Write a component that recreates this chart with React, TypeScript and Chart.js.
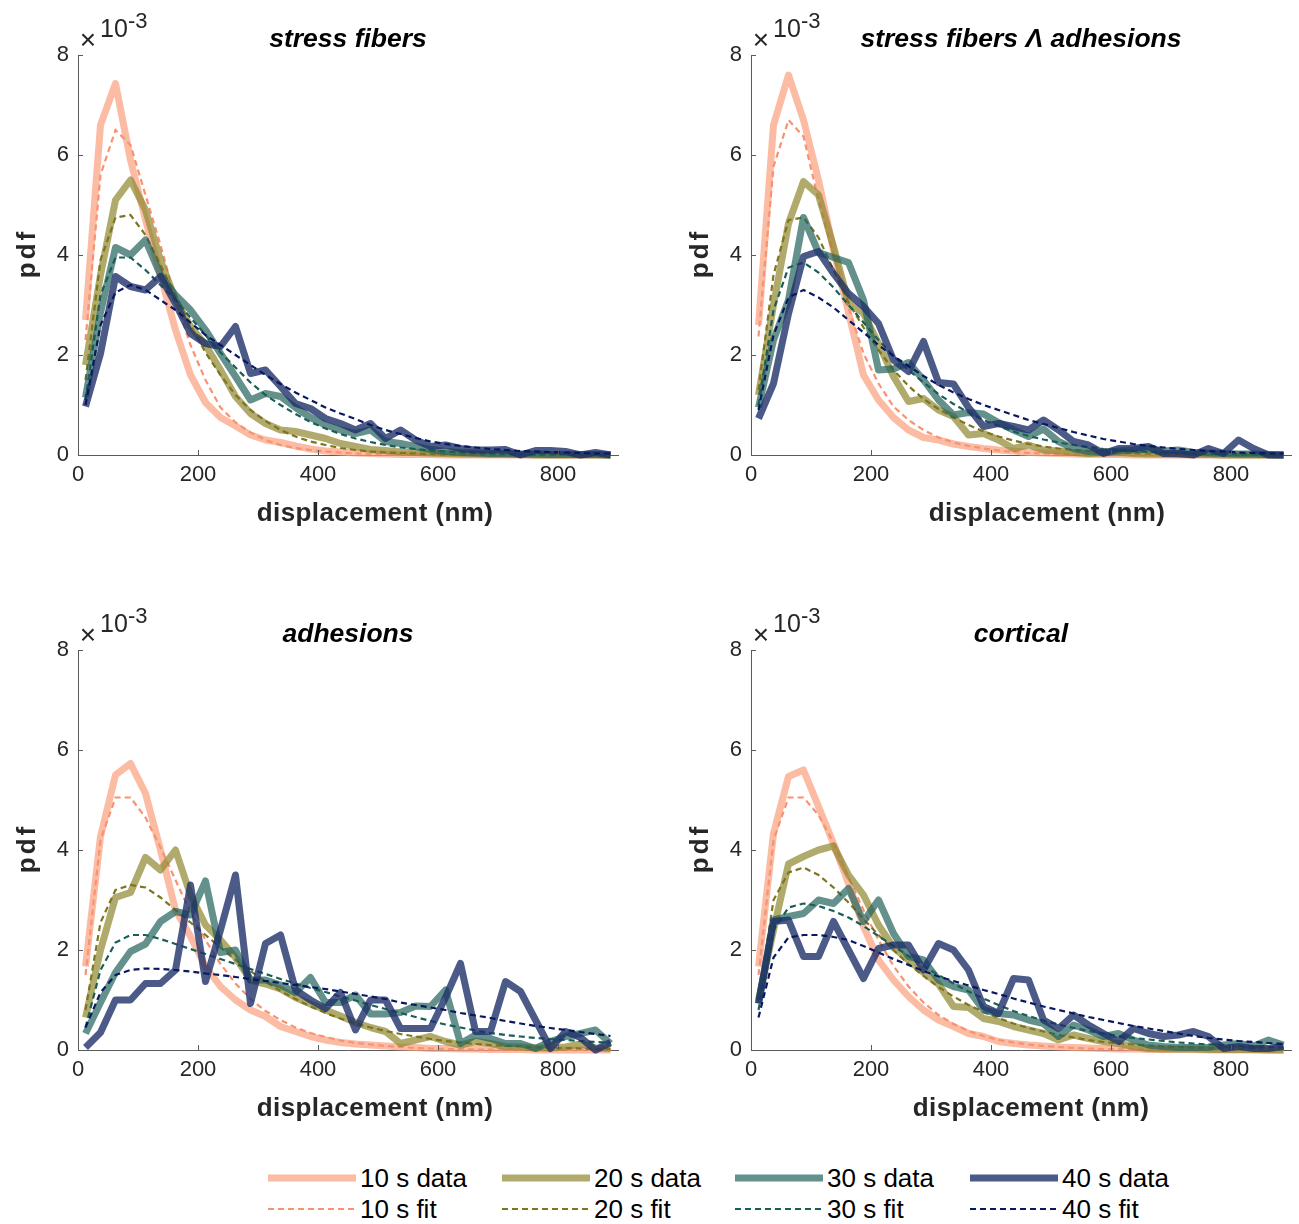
import React, { useEffect, useRef } from 'react';
import { Chart, registerables } from 'chart.js';

Chart.register(...registerables);

// ---------- data (pdf values in units of 1e-3) ----------
const binCenters = [
  12.5, 37.5, 62.5, 87.5, 112.5, 137.5, 162.5, 187.5, 212.5, 237.5, 262.5, 287.5,
  312.5, 337.5, 362.5, 387.5, 412.5, 437.5, 462.5, 487.5, 512.5, 537.5, 562.5, 587.5,
  612.5, 637.5, 662.5, 687.5, 712.5, 737.5, 762.5, 787.5, 812.5, 837.5, 862.5, 887.5,
];
const xTickValues = [0, 200, 400, 600, 800];
const yTickValues = [0, 2, 4, 6, 8];
const seriesNames = ['10 s', '20 s', '30 s', '40 s'];

// stress fibers
const sfData10 = [2.7, 6.6, 7.43, 5.9, 4.7, 3.6, 2.5, 1.6, 1.05, 0.75, 0.58, 0.4, 0.3, 0.25, 0.18, 0.12, 0.08, 0.06, 0.04, 0.03, 0.02, 0.01, 0.01, 0.01, 0, 0, 0, 0, 0, 0, 0, 0, 0, 0, 0, 0];
const sfFit10 = [2.3, 5.6, 6.5, 6.2, 5.2, 4.2, 3.1, 2.2, 1.5, 0.95, 0.65, 0.45, 0.3, 0.2, 0.14, 0.1, 0.07, 0.05, 0.03, 0.02, 0.02, 0.01, 0.01, 0.01, 0, 0, 0, 0, 0, 0, 0, 0, 0, 0, 0, 0];
const sfData20 = [1.8, 3.6, 5.1, 5.5, 4.9, 3.9, 3.1, 2.57, 2.2, 1.7, 1.17, 0.83, 0.63, 0.5, 0.47, 0.4, 0.33, 0.23, 0.17, 0.11, 0.09, 0.06, 0.05, 0.04, 0.03, 0.02, 0.02, 0.01, 0.01, 0.01, 0, 0, 0, 0, 0, 0];
const sfFit20 = [1.5, 3.9, 4.75, 4.8, 4.4, 3.8, 3.2, 2.6, 2.05, 1.6, 1.2, 0.9, 0.68, 0.5, 0.37, 0.27, 0.2, 0.14, 0.1, 0.07, 0.05, 0.04, 0.03, 0.02, 0.01, 0.01, 0.01, 0, 0, 0, 0, 0, 0, 0, 0, 0];
const sfData30 = [1.15, 2.85, 4.15, 4.0, 4.3, 3.6, 3.2, 2.9, 2.5, 2.03, 1.57, 1.1, 1.23, 1.17, 0.95, 0.75, 0.6, 0.5, 0.43, 0.5, 0.27, 0.23, 0.17, 0.11, 0.07, 0.05, 0.04, 0.03, 0.03, 0.02, 0.02, 0.01, 0.01, 0.01, 0.01, 0];
const sfFit30 = [1.1, 3.2, 3.95, 3.95, 3.7, 3.4, 3.1, 2.75, 2.4, 2.05, 1.75, 1.45, 1.2, 1.0, 0.82, 0.66, 0.53, 0.42, 0.33, 0.26, 0.2, 0.15, 0.12, 0.09, 0.07, 0.05, 0.04, 0.03, 0.02, 0.02, 0.01, 0.01, 0.01, 0, 0, 0];
const sfData40 = [0.97, 2.03, 3.57, 3.37, 3.3, 3.57, 3.03, 2.43, 2.23, 2.17, 2.57, 1.63, 1.7, 1.37, 1.03, 0.93, 0.73, 0.63, 0.5, 0.63, 0.33, 0.5, 0.3, 0.17, 0.2, 0.13, 0.1, 0.1, 0.11, 0, 0.09, 0.09, 0.07, 0, 0.05, 0];
const sfFit40 = [1.0, 2.6, 3.25, 3.4, 3.3, 3.1, 2.9, 2.65, 2.4, 2.2, 2.0, 1.8, 1.6, 1.42, 1.25, 1.1, 0.95, 0.83, 0.72, 0.6, 0.5, 0.42, 0.34, 0.27, 0.22, 0.18, 0.15, 0.12, 0.1, 0.08, 0.07, 0.06, 0.05, 0.04, 0.03, 0.03];

// stress fibers ∧ adhesions
const sfaData10 = [2.6, 6.6, 7.6, 6.7, 5.5, 4.1, 2.85, 1.6, 1.1, 0.75, 0.5, 0.35, 0.3, 0.22, 0.17, 0.13, 0.1, 0.08, 0.05, 0.04, 0.03, 0.02, 0.01, 0.01, 0.01, 0, 0, 0, 0, 0, 0, 0, 0, 0, 0, 0];
const sfaFit10 = [2.37, 5.77, 6.7, 6.37, 5.1, 4.0, 2.95, 2.03, 1.43, 0.97, 0.7, 0.5, 0.35, 0.25, 0.18, 0.13, 0.09, 0.06, 0.04, 0.03, 0.02, 0.02, 0.01, 0.01, 0, 0, 0, 0, 0, 0, 0, 0, 0, 0, 0, 0];
const sfaData20 = [1.2, 3.0, 4.63, 5.47, 5.2, 4.17, 3.05, 2.83, 2.23, 1.57, 1.07, 1.13, 0.9, 0.77, 0.4, 0.43, 0.3, 0.13, 0.2, 0.1, 0.08, 0.05, 0.03, 0.04, 0.05, 0.03, 0.02, 0.02, 0.01, 0.01, 0.01, 0, 0, 0, 0, 0];
const sfaFit20 = [1.3, 3.6, 4.7, 4.75, 4.35, 3.7, 3.05, 2.55, 2.1, 1.7, 1.38, 1.12, 0.92, 0.75, 0.6, 0.47, 0.37, 0.29, 0.22, 0.17, 0.13, 0.1, 0.08, 0.06, 0.05, 0.04, 0.03, 0.02, 0.02, 0.01, 0.01, 0.01, 0, 0, 0, 0];
const sfaData30 = [0.95, 2.3, 3.1, 4.75, 4.05, 3.95, 3.85, 3.1, 1.7, 1.72, 1.85, 1.5, 1.1, 0.8, 0.85, 0.82, 0.65, 0.5, 0.37, 0.52, 0.27, 0.13, 0.07, 0.05, 0.08, 0.1, 0.13, 0.08, 0.1, 0.05, 0.04, 0.03, 0.02, 0.02, 0.01, 0];
const sfaFit30 = [1.0, 2.9, 3.75, 3.85, 3.65, 3.35, 3.0, 2.65, 2.3, 1.98, 1.7, 1.45, 1.22, 1.02, 0.85, 0.7, 0.58, 0.47, 0.38, 0.31, 0.25, 0.2, 0.16, 0.12, 0.1, 0.08, 0.06, 0.05, 0.04, 0.03, 0.02, 0.02, 0.01, 0.01, 0.01, 0];
const sfaData40 = [0.73, 1.43, 2.83, 3.97, 4.07, 3.63, 3.23, 2.97, 2.63, 1.9, 1.67, 2.27, 1.45, 1.42, 0.95, 0.57, 0.63, 0.57, 0.5, 0.7, 0.5, 0.27, 0.2, 0.03, 0.13, 0.13, 0.17, 0.03, 0.03, 0, 0.13, 0.03, 0.3, 0.13, 0, 0];
const sfaFit40 = [0.9, 2.4, 3.15, 3.3, 3.15, 2.95, 2.7, 2.45, 2.2, 1.98, 1.78, 1.58, 1.4, 1.25, 1.12, 1.0, 0.9, 0.8, 0.7, 0.62, 0.54, 0.46, 0.39, 0.32, 0.27, 0.22, 0.18, 0.15, 0.12, 0.1, 0.08, 0.07, 0.05, 0.04, 0.03, 0.03];

// adhesions
const adData10 = [1.67, 4.27, 5.5, 5.73, 5.13, 4.0, 2.8, 2.27, 1.67, 1.27, 1.0, 0.8, 0.67, 0.47, 0.37, 0.27, 0.2, 0.15, 0.12, 0.1, 0.08, 0.06, 0.05, 0.03, 0.03, 0.02, 0.02, 0.01, 0.01, 0.01, 0, 0, 0, 0, 0, 0];
const adFit10 = [1.5, 4.2, 5.05, 5.05, 4.65, 4.05, 3.4, 2.75, 2.2, 1.72, 1.33, 1.02, 0.78, 0.6, 0.45, 0.34, 0.26, 0.19, 0.14, 0.11, 0.08, 0.06, 0.04, 0.03, 0.02, 0.02, 0.01, 0.01, 0.01, 0, 0, 0, 0, 0, 0, 0];
const adData20 = [0.65, 2.0, 3.05, 3.15, 3.85, 3.6, 4.0, 3.1, 2.5, 2.2, 1.85, 1.4, 1.32, 1.22, 1.05, 0.92, 0.8, 0.68, 0.55, 0.45, 0.37, 0.13, 0.2, 0.27, 0.17, 0.1, 0.17, 0.13, 0.07, 0.06, 0.04, 0.04, 0.06, 0.12, 0.04, 0.03];
const adFit20 = [0.8, 2.55, 3.2, 3.3, 3.25, 3.05, 2.8, 2.55, 2.3, 2.05, 1.8, 1.58, 1.37, 1.18, 1.02, 0.87, 0.74, 0.63, 0.53, 0.45, 0.38, 0.32, 0.27, 0.22, 0.18, 0.15, 0.12, 0.1, 0.08, 0.07, 0.05, 0.04, 0.04, 0.03, 0.02, 0.02];
const adData30 = [0.33, 0.95, 1.55, 1.97, 2.12, 2.57, 2.77, 2.7, 3.38, 1.95, 2.0, 1.4, 1.4, 1.3, 1.15, 1.45, 0.95, 0.95, 1.1, 0.72, 0.72, 0.75, 0.88, 0.87, 1.2, 0.13, 0.3, 0.23, 0.13, 0.13, 0.03, 0.17, 0.27, 0.33, 0.4, 0.13];
const adFit30 = [0.45, 1.6, 2.15, 2.3, 2.3, 2.22, 2.12, 2.02, 1.92, 1.82, 1.72, 1.62, 1.52, 1.42, 1.33, 1.24, 1.16, 1.07, 0.99, 0.9, 0.82, 0.74, 0.66, 0.58, 0.51, 0.45, 0.39, 0.34, 0.3, 0.27, 0.24, 0.22, 0.2, 0.18, 0.16, 0.15];
const adData40 = [0.05, 0.35, 1.0, 1.0, 1.33, 1.33, 1.6, 3.3, 1.37, 2.4, 3.5, 0.93, 2.13, 2.3, 1.2, 1.0, 0.83, 1.15, 0.4, 1.0, 1.0, 0.43, 0.43, 0.43, 1.05, 1.73, 0.37, 0.37, 1.37, 1.17, 0.6, 0.03, 0.37, 0.25, 0.0, 0.15];
const adFit40 = [0.45, 1.15, 1.5, 1.6, 1.63, 1.62, 1.6, 1.57, 1.53, 1.5, 1.46, 1.42, 1.38, 1.34, 1.3, 1.26, 1.22, 1.17, 1.12, 1.07, 1.02, 0.95, 0.9, 0.85, 0.8, 0.74, 0.69, 0.64, 0.58, 0.53, 0.48, 0.44, 0.4, 0.36, 0.32, 0.28];

// cortical
const coData10 = [1.67, 4.33, 5.47, 5.6, 4.87, 4.13, 3.33, 2.47, 1.8, 1.4, 1.07, 0.8, 0.6, 0.47, 0.33, 0.27, 0.17, 0.13, 0.1, 0.08, 0.06, 0.05, 0.04, 0.03, 0.02, 0.02, 0.01, 0.01, 0.01, 0.01, 0, 0, 0, 0, 0, 0];
const coFit10 = [1.5, 4.2, 5.05, 5.05, 4.7, 4.15, 3.45, 2.8, 2.2, 1.68, 1.27, 0.95, 0.7, 0.52, 0.38, 0.28, 0.2, 0.15, 0.11, 0.08, 0.06, 0.04, 0.03, 0.02, 0.02, 0.01, 0.01, 0.01, 0, 0, 0, 0, 0, 0, 0, 0];
const coData20 = [1.0, 2.4, 3.72, 3.87, 4.0, 4.08, 3.5, 3.1, 2.5, 2.05, 1.8, 1.55, 1.32, 0.87, 0.85, 0.63, 0.57, 0.47, 0.4, 0.33, 0.2, 0.3, 0.23, 0.17, 0.13, 0.07, 0.03, 0.02, 0.02, 0.02, 0.01, 0.01, 0.01, 0.01, 0, 0];
const coFit20 = [1.0, 3.0, 3.55, 3.65, 3.5, 3.25, 2.95, 2.62, 2.3, 2.0, 1.72, 1.48, 1.26, 1.07, 0.9, 0.76, 0.64, 0.53, 0.44, 0.37, 0.3, 0.25, 0.2, 0.16, 0.13, 0.11, 0.09, 0.07, 0.06, 0.05, 0.04, 0.03, 0.02, 0.02, 0.01, 0.01];
const coData30 = [0.93, 2.6, 2.67, 2.73, 3.0, 2.93, 3.23, 2.57, 3.0, 2.33, 1.87, 1.8, 1.4, 1.27, 1.2, 0.8, 0.73, 0.7, 0.6, 0.53, 0.27, 0.5, 0.4, 0.27, 0.33, 0.2, 0.1, 0.07, 0.05, 0.05, 0.05, 0.1, 0.13, 0.08, 0.2, 0.1];
const coFit30 = [0.8, 2.4, 2.85, 2.93, 2.88, 2.78, 2.65, 2.48, 2.28, 2.08, 1.88, 1.68, 1.5, 1.33, 1.17, 1.03, 0.9, 0.78, 0.68, 0.59, 0.51, 0.44, 0.38, 0.33, 0.28, 0.24, 0.21, 0.18, 0.15, 0.13, 0.11, 0.1, 0.08, 0.07, 0.06, 0.05];
const coData40 = [0.93, 2.57, 2.6, 1.87, 1.87, 2.57, 2.0, 1.43, 2.03, 2.1, 2.1, 1.6, 2.13, 2.0, 1.6, 0.87, 0.73, 1.43, 1.4, 0.6, 0.43, 0.7, 0.5, 0.33, 0.17, 0.43, 0.33, 0.27, 0.3, 0.37, 0.27, 0.03, 0.07, 0.03, 0.03, 0.07];
const coFit40 = [0.65, 1.85, 2.25, 2.3, 2.3, 2.26, 2.2, 2.08, 1.95, 1.82, 1.7, 1.58, 1.47, 1.38, 1.29, 1.2, 1.12, 1.03, 0.95, 0.87, 0.8, 0.73, 0.66, 0.6, 0.54, 0.48, 0.43, 0.38, 0.33, 0.28, 0.24, 0.21, 0.18, 0.16, 0.14, 0.12];

// ---------- styles ----------
const FONT = '"Liberation Sans", Arial, Helvetica, sans-serif';
const AXIS_COLOR = '#5a5a5a';
const TEXT_COLOR = '#262626';
const dataColors = ['rgba(251,158,124,0.7)', 'rgba(142,134,45,0.7)', 'rgba(34,98,91,0.7)', 'rgba(30,49,105,0.8)'];
const fitColors = ['rgb(248,146,114)', 'rgb(125,118,30)', 'rgb(25,95,85)', 'rgb(10,25,95)'];
const DATA_WIDTH = 7;
const FIT_WIDTH = 2.2;
const FIT_DASH = [6, 4];

type PanelSpec = { title: string; data: number[][]; fits: number[][]; left: number; top: number; width: number; xLabelShift: number };

const CANVAS_H = 545;
const AREA_LEFT = 78;
const AREA_RIGHT = 618;
const AREA_BOTTOM = 455;

const panels: PanelSpec[] = [
  { title: 'stress fibers', data: [sfData10, sfData20, sfData30, sfData40], fits: [sfFit10, sfFit20, sfFit30, sfFit40], left: 0, top: 0, width: 660, xLabelShift: 27 },
  { title: 'stress fibers Λ adhesions', data: [sfaData10, sfaData20, sfaData30, sfaData40], fits: [sfaFit10, sfaFit20, sfaFit30, sfaFit40], left: 673, top: 0, width: 626, xLabelShift: 26 },
  { title: 'adhesions', data: [adData10, adData20, adData30, adData40], fits: [adFit10, adFit20, adFit30, adFit40], left: 0, top: 595, width: 660, xLabelShift: 27 },
  { title: 'cortical', data: [coData10, coData20, coData30, coData40], fits: [coFit10, coFit20, coFit30, coFit40], left: 673, top: 595, width: 626, xLabelShift: 10 },
];

function makeDecor(spec: PanelSpec) {
  return {
    id: 'axisDecor',
    afterDraw(chart: any) {
      const { ctx, chartArea } = chart;
      const { left, top, bottom, right } = chartArea;
      const xs = chart.scales.x;
      const ys = chart.scales.y;
      ctx.save();
      // inward tick marks
      ctx.strokeStyle = AXIS_COLOR;
      ctx.lineWidth = 1;
      ctx.beginPath();
      for (const v of xTickValues) {
        const px = Math.round(xs.getPixelForValue(v)) + 0.5;
        ctx.moveTo(px, bottom);
        ctx.lineTo(px, bottom - 5);
      }
      for (const v of yTickValues) {
        const py = Math.round(ys.getPixelForValue(v)) + 0.5;
        ctx.moveTo(left, py);
        ctx.lineTo(left + 5, py);
      }
      ctx.stroke();
      // exponent label
      ctx.fillStyle = TEXT_COLOR;
      ctx.font = `28px ${FONT}`;
      ctx.textAlign = 'center';
      ctx.textBaseline = 'middle';
      ctx.fillText('×', left + 10, top - 14);
      ctx.textAlign = 'left';
      ctx.textBaseline = 'alphabetic';
      ctx.font = `25px ${FONT}`;
      ctx.fillText('10', left + 22, top - 18);
      ctx.font = `22px ${FONT}`;
      ctx.fillText('-3', left + 50, top - 27);
      // axis titles
      ctx.font = `bold 26px ${FONT}`;
      ctx.textAlign = 'center';
      ctx.textBaseline = 'middle';
      try { (ctx as any).letterSpacing = '0.4px'; } catch (e) { /* ignore */ }
      ctx.fillText('displacement (nm)', (left + right) / 2 + spec.xLabelShift, bottom + 59);
      try { (ctx as any).letterSpacing = '3px'; } catch (e) { /* ignore */ }
      ctx.translate(28, (top + bottom) / 2);
      ctx.rotate(-Math.PI / 2);
      ctx.fillText('pdf', 1.5, 0);
      ctx.restore();
    },
  };
}

function Panel({ spec }: { spec: PanelSpec }) {
  const ref = useRef<HTMLCanvasElement | null>(null);
  useEffect(() => {
    if (!ref.current) return;
    const datasets: any[] = [];
    let drawIndex = 0;
    for (let i = 0; i < 4; i++) {
      datasets.push({
        label: `${seriesNames[i]} data`,
        data: binCenters.map((x, k) => ({ x, y: spec.data[i][k] })),
        borderColor: dataColors[i],
        borderWidth: DATA_WIDTH,
        borderJoinStyle: 'round',
        pointRadius: 0,
        tension: 0,
        fill: false,
        clip: false,
        order: 20 - drawIndex++,
      });
      datasets.push({
        label: `${seriesNames[i]} fit`,
        data: binCenters.map((x, k) => ({ x, y: spec.fits[i][k] })),
        borderColor: fitColors[i],
        borderWidth: FIT_WIDTH,
        borderDash: FIT_DASH,
        pointRadius: 0,
        tension: 0,
        fill: false,
        clip: false,
        order: 20 - drawIndex++,
      });
    }
    const chart = new Chart(ref.current, {
      type: 'line',
      data: { datasets },
      options: {
        animation: false,
        responsive: false,
        maintainAspectRatio: false,
        devicePixelRatio: 1,
        events: [],
        layout: { padding: { left: 0, right: spec.width - AREA_RIGHT, top: 0, bottom: 0 } },
        plugins: {
          legend: { display: false },
          tooltip: { enabled: false },
          title: {
            display: true,
            text: spec.title,
            fullSize: false,
            color: '#000',
            font: { family: FONT, size: 26.5, weight: 'bold', style: 'italic', lineHeight: 1.1 },
            padding: { top: 25.4, bottom: 0.45 },
          },
        },
        scales: {
          x: {
            type: 'linear',
            min: 0,
            max: 900,
            afterBuildTicks: (s: any) => { s.ticks = xTickValues.map((v) => ({ value: v })); },
            afterFit: (s: any) => { s.height = CANVAS_H - AREA_BOTTOM; },
            grid: { display: false, drawTicks: false },
            border: { display: true, color: AXIS_COLOR, width: 1 },
            ticks: { color: TEXT_COLOR, font: { family: FONT, size: 22 }, padding: 7, maxRotation: 0, autoSkip: false },
          },
          y: {
            type: 'linear',
            min: 0,
            max: 8,
            afterBuildTicks: (s: any) => { s.ticks = yTickValues.map((v) => ({ value: v })); },
            afterFit: (s: any) => { s.width = AREA_LEFT; },
            grid: { display: false, drawTicks: false },
            border: { display: true, color: AXIS_COLOR, width: 1 },
            ticks: { color: TEXT_COLOR, font: { family: FONT, size: 22 }, padding: 9 },
          },
        },
      } as any,
      plugins: [makeDecor(spec)],
    });
    return () => chart.destroy();
  }, [spec]);
  return (
    <canvas
      ref={ref}
      width={spec.width}
      height={CANVAS_H}
      style={{ position: 'absolute', left: spec.left, top: spec.top, width: spec.width, height: CANVAS_H }}
    />
  );
}

const legendColumnsX = [268, 502, 735, 970];
const LEGEND_ROW_TOPS = [1164, 1195];

function Legend() {
  const rowStyle = (top: number, left: number): React.CSSProperties => ({
    position: 'absolute', left, top, height: 28, display: 'flex', alignItems: 'center',
    font: `26px ${FONT}`, color: '#000', whiteSpace: 'nowrap',
  });
  return (
    <>
      {seriesNames.map((name, i) => (
        <React.Fragment key={name}>
          <div style={rowStyle(LEGEND_ROW_TOPS[0], legendColumnsX[i])}>
            <svg width={88} height={12} style={{ display: 'block' }}>
              <line x1={0} y1={6} x2={88} y2={6} stroke={dataColors[i]} strokeWidth={7} />
            </svg>
            <span style={{ marginLeft: 4 }}>{name} data</span>
          </div>
          <div style={rowStyle(LEGEND_ROW_TOPS[1], legendColumnsX[i])}>
            <svg width={88} height={12} style={{ display: 'block' }}>
              <line x1={0} y1={6} x2={88} y2={6} stroke={fitColors[i]} strokeWidth={2.2} strokeDasharray="6 4" />
            </svg>
            <span style={{ marginLeft: 4 }}>{name} fit</span>
          </div>
        </React.Fragment>
      ))}
    </>
  );
}

export default function App() {
  return (
    <div style={{ position: 'absolute', left: 0, top: 0, width: 1299, height: 1224, overflow: 'hidden', background: '#fff' }}>
      {panels.map((p) => (
        <Panel key={p.title} spec={p} />
      ))}
      <Legend />
    </div>
  );
}
